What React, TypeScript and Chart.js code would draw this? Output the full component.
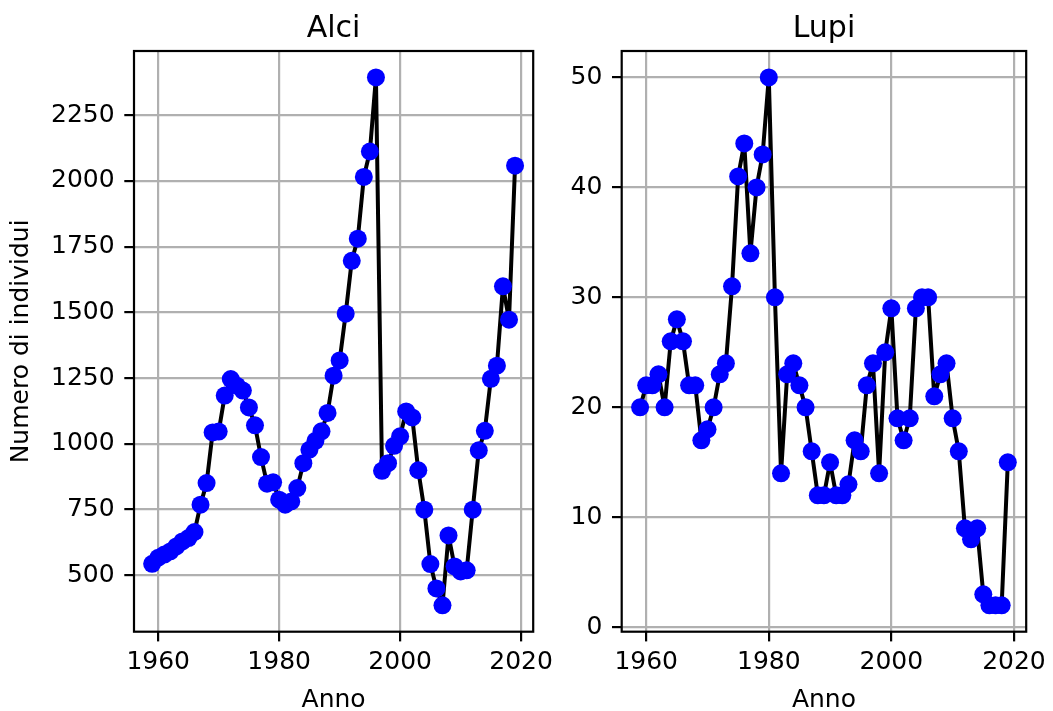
import { useEffect, useRef } from "react";
import { Chart, registerables } from "chart.js";

Chart.register(...registerables);

// Survey years
const anni = [
  1959, 1960, 1961, 1962, 1963, 1964, 1965, 1966, 1967, 1968,
  1969, 1970, 1971, 1972, 1973, 1974, 1975, 1976, 1977, 1978,
  1979, 1980, 1981, 1982, 1983, 1984, 1985, 1986, 1987, 1988,
  1989, 1990, 1991, 1992, 1993, 1994, 1995, 1996, 1997, 1998,
  1999, 2000, 2001, 2002, 2003, 2004, 2005, 2006, 2007, 2008,
  2009, 2010, 2011, 2012, 2013, 2014, 2015, 2016, 2017, 2018,
  2019,
];

// Moose counts
const alci = [
  543, 566, 578, 590, 609, 628, 641, 664, 768, 850,
  1043, 1046, 1183, 1246, 1221, 1202, 1138, 1070, 949, 848,
  853, 787, 768, 780, 831, 926, 977, 1011, 1047, 1117,
  1259, 1317, 1495, 1696, 1780, 2015, 2112, 2394, 897, 926,
  992, 1028, 1123, 1100, 899, 749, 542, 449, 385, 651,
  533, 514, 518, 749, 975, 1049, 1247, 1297, 1599, 1472,
  2058,
];

// Wolf counts
const lupi = [
  20, 22, 22, 23, 20, 26, 28, 26, 22, 22,
  17, 18, 20, 23, 24, 31, 41, 44, 34, 40,
  43, 50, 30, 14, 23, 24, 22, 20, 16, 12,
  12, 15, 12, 12, 13, 17, 16, 22, 24, 14,
  25, 29, 19, 17, 19, 29, 30, 30, 21, 23,
  24, 19, 16, 9, 8, 9, 3, 2, 2, 2,
  15,
];

const tickAnni = [1960, 1980, 2000, 2020];
const tickAlci = [500, 750, 1000, 1250, 1500, 1750, 2000, 2250];
const tickLupi = [0, 10, 20, 30, 40, 50];

const FONT = "DejaVu Sans";

// Matplotlib-style 5% data margins
function padded(values: number[]) {
  const lo = Math.min(...values);
  const hi = Math.max(...values);
  const m = (hi - lo) * 0.05;
  return { min: lo - m, max: hi + m };
}

const panelTitle = {
  id: "panelTitle",
  afterDraw(chart: any, _args: any, opts: any) {
    const { ctx, chartArea } = chart;
    ctx.save();
    ctx.font = `30px "${FONT}"`;
    ctx.fillStyle = "#000";
    ctx.textAlign = "center";
    ctx.textBaseline = "alphabetic";
    ctx.fillText(opts.text, (chartArea.left + chartArea.right) / 2, chartArea.top - 14);
    ctx.restore();
  },
};

const frame = {
  id: "frame",
  afterDatasetsDraw(chart: any) {
    const { ctx, chartArea } = chart;
    ctx.save();
    ctx.strokeStyle = "#000";
    ctx.lineWidth = 2.2;
    ctx.strokeRect(
      chartArea.left,
      chartArea.top,
      chartArea.right - chartArea.left,
      chartArea.bottom - chartArea.top
    );
    ctx.restore();
  },
};

function makeConfig(
  titolo: string,
  valori: number[],
  yTicks: number[],
  yWidth: number,
  padRight: number,
  yLabel: string | null
): any {
  const xr = padded(anni);
  const yr = padded(valori);
  const grid = {
    color: "#b0b0b0",
    lineWidth: 2.2,
    tickColor: "#000",
    tickWidth: 2.2,
    tickLength: 9.7,
  };
  return {
    type: "line",
    data: {
      datasets: [
        {
          data: anni.map((a, i) => ({ x: a, y: valori[i] })),
          borderColor: "#000",
          borderWidth: 4,
          borderJoinStyle: "round",
          borderCapStyle: "round",
          pointRadius: 9,
          pointBorderWidth: 0,
          pointBackgroundColor: "#0000ff",
          pointBorderColor: "#0000ff",
          tension: 0,
          fill: false,
        },
      ],
    },
    options: {
      animation: false,
      responsive: false,
      maintainAspectRatio: false,
      devicePixelRatio: 1,
      events: [],
      layout: { padding: { top: 51, right: padRight, left: 0, bottom: 0 } },
      plugins: {
        legend: { display: false },
        tooltip: { enabled: false },
        title: { display: false },
        panelTitle: { text: titolo },
      },
      scales: {
        x: {
          type: "linear",
          min: xr.min,
          max: xr.max,
          afterBuildTicks: (s: any) => {
            s.ticks = tickAnni.map((v) => ({ value: v }));
          },
          afterFit: (s: any) => {
            s.height = 79.3;
          },
          grid,
          border: { display: false },
          ticks: {
            color: "#000",
            font: { family: FONT, size: 25 },
            padding: 6.5,
            maxRotation: 0,
            autoSkip: false,
            callback: (v: any) => String(v),
          },
          title: {
            display: true,
            text: "Anno",
            color: "#000",
            font: { family: FONT, size: 25 },
            padding: { top: 0, bottom: -4 },
          },
        },
        y: {
          type: "linear",
          min: yr.min,
          max: yr.max,
          afterBuildTicks: (s: any) => {
            s.ticks = yTicks.map((v) => ({ value: v }));
          },
          afterFit: (s: any) => {
            s.width = yWidth;
          },
          grid,
          border: { display: false },
          ticks: {
            color: "#000",
            font: { family: FONT, size: 25 },
            padding: 9.7,
            autoSkip: false,
            callback: (v: any) => String(v),
          },
          title: {
            display: !!yLabel,
            text: yLabel || "",
            color: "#000",
            font: { family: FONT, size: 25 },
            padding: { top: 6, bottom: 0 },
          },
        },
      },
    },
    plugins: [panelTitle, frame],
  };
}

export default function App() {
  const leftRef = useRef<HTMLCanvasElement>(null);
  const rightRef = useRef<HTMLCanvasElement>(null);

  useEffect(() => {
    const a = new Chart(
      leftRef.current!,
      makeConfig("Alci", alci, tickAlci, 134, 19.3, "Numero di individui")
    );
    const b = new Chart(
      rightRef.current!,
      makeConfig("Lupi", lupi, tickLupi, 61.7, 24.7, null)
    );
    return () => {
      a.destroy();
      b.destroy();
    };
  }, []);

  return (
    <div
      style={{
        position: "fixed",
        left: 0,
        top: 0,
        width: 1053,
        height: 711,
        background: "#fff",
        overflow: "hidden",
      }}
    >
      <canvas
        ref={leftRef}
        width={560}
        height={711}
        style={{ position: "absolute", left: 0, top: 0, width: 560, height: 711 }}
      />
      <canvas
        ref={rightRef}
        width={493}
        height={711}
        style={{ position: "absolute", left: 560, top: 0, width: 493, height: 711 }}
      />
    </div>
  );
}
